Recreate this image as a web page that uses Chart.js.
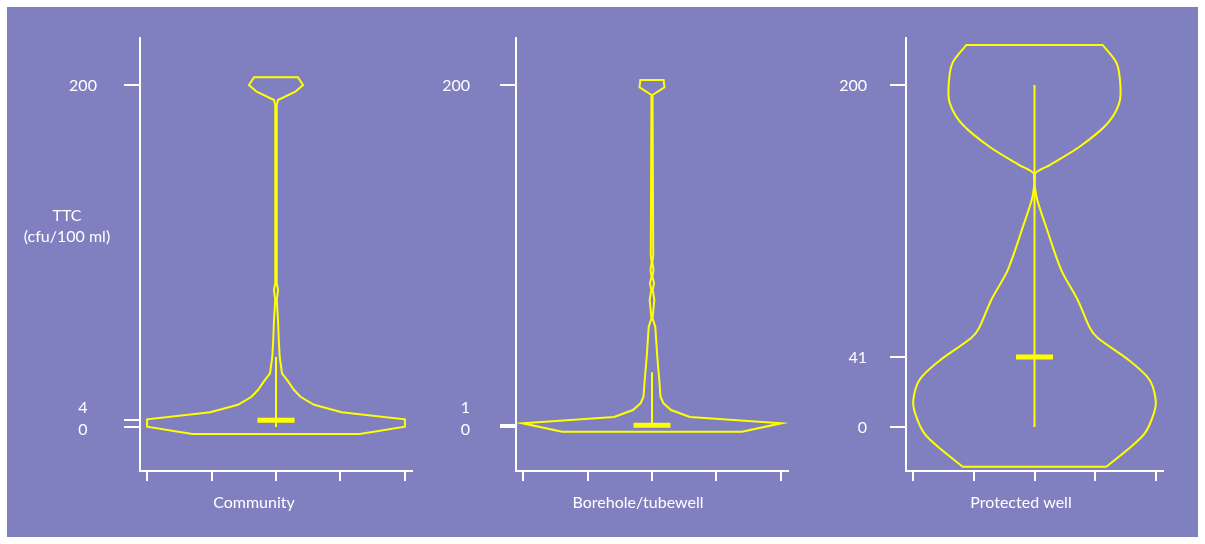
<!DOCTYPE html>
<html>
<head>
<meta charset="utf-8">
<script src="https://cdn.jsdelivr.net/npm/chart.js@4.4.1/dist/chart.umd.min.js"></script>
<style>
  html, body { margin: 0; padding: 0; background: #ffffff; }
  #frame { position: absolute; left: 7px; top: 7px; width: 1191px; height: 530px; background: #8080c0; }
  canvas { position: absolute; left: 0; top: 0; }
</style>
</head>
<body>
<div id="frame"></div>
<canvas id="c1" width="1205" height="544"></canvas>
<canvas id="c2" width="1205" height="544"></canvas>
<canvas id="c3" width="1205" height="544"></canvas>
<script>
// TTC (cfu/100 ml) by water source
const categories = ['Community', 'Borehole/tubewell', 'Protected well'];
const yTitle = ['TTC', '(cfu/100 ml)'];

// violin outlines: TTC level and half width (density, in x tick units)
const communityLevels = [-4.1, 0.2, 4.5, 8.6, 13.0, 17.7, 21.6, 26.5, 31.4, 41.1, 50.9, 62.6, 74.3, 80.1, 84.2, 188.3, 191.2, 196.1, 200.0, 204.5];
const communityWidths = [1.30, 2.00, 2.00, 1.02, 0.59, 0.38, 0.28, 0.19, 0.093, 0.057, 0.043, 0.031, 0.012, 0.031, 0.011, 0.011, 0.031, 0.30, 0.42, 0.34];

const boreholeLevels = [-2.75, 2.16, 5.85, 9.94, 13.86, 17.72, 27.49, 41.11, 58.65, 63.57, 74.27, 80.12, 84.04, 87.89, 91.81, 96.49, 100.58, 194.15, 198.65, 202.92];
const boreholeWidths = [1.395, 2.005, 0.589, 0.295, 0.178, 0.132, 0.113, 0.082, 0.051, 0.008, 0.036, 0.011, 0.031, 0.008, 0.023, 0.006, 0.019, 0.008, 0.194, 0.181];

const wellLevels = [-23.2, -13.5, -3.7, 8.0, 15.8, 27.5, 38.5, 52.0, 57.9, 74.3, 91.8, 117.1, 132.8, 140.5, 148.0, 153.2, 163.9, 177.2, 189.3, 200.0, 212.7, 223.4];
const wellWidths = [1.18, 1.52, 1.81, 1.96, 1.99, 1.89, 1.57, 1.04, 0.91, 0.71, 0.44, 0.19, 0.046, 0.008, 0.005, 0.25, 0.74, 1.19, 1.39, 1.41, 1.35, 1.12];

// median and whisker range per source
const medians = [4, 1, 41];
const whiskerLow = [0, 0, 0];
const whiskerHigh = [41, 32, 200];

// y tick values per panel
const yTicks = [[0, 4, 200], [0, 1, 200], [0, 41, 200]];
const xTicks = [-2, -1, 0, 1, 2];

const YELLOW = '#ffff00';
const WHITE = '#ffffff';
const FONT = '16px Lato';

const labelPlugin = {
    id: 'panelLabels',
    afterDraw(chart, args, opts) {
        const ctx = chart.ctx;
        const ys = chart.scales.y;
        ctx.save();
        ctx.fillStyle = WHITE;
        ctx.font = FONT;
        ctx.textBaseline = 'middle';

        // tick labels, pushed apart when two ticks are too close
        ctx.textAlign = opts.tickAlign;
        const vals = opts.ticks.slice().sort((a, b) => a - b);
        let prevY = null;
        vals.forEach((v, i) => {
            let py = ys.getPixelForValue(v) + 1;
            const next = vals[i + 1];
            if (next !== undefined && py - ys.getPixelForValue(next) < 20) {
                py += 2;
            }
            if (prevY !== null && prevY - py < 22) {
                py = prevY - 22;
            }
            ctx.fillText(String(v), opts.tickX, py);
            prevY = py;
        });

        // category label under the x axis
        ctx.textAlign = 'center';
        ctx.fillText(opts.title, opts.titleX, 503);

        // y axis title (first panel only)
        if (opts.showYTitle) {
            ctx.fillText(yTitle[0], 67, 216);
            ctx.fillText(yTitle[1], 67, 237);
        }
        ctx.restore();
    }
};

function makePanel(canvasId, idx, levels, widths, left, right, tickAlign, tickX, titleX, smooth) {
    const n = levels.length;
    const outline = [];
    // right side going up, then left side going down; flat ends doubled so smoothing keeps them flat
    outline.push({ x: widths[0], y: levels[0] });
    for (let i = 0; i < n; i++) {
        outline.push({ x: widths[i], y: levels[i] });
    }
    outline.push({ x: widths[n - 1], y: levels[n - 1] });
    outline.push({ x: -widths[n - 1], y: levels[n - 1] });
    for (let i = n - 1; i >= 0; i--) {
        outline.push({ x: -widths[i], y: levels[i] });
    }
    outline.push({ x: -widths[0], y: levels[0] });
    outline.push({ x: widths[0], y: levels[0] });
    outline.push({ x: widths[0], y: levels[0] });

    const top = 38, bottom = 471;

    new Chart(document.getElementById(canvasId), {
        type: 'scatter',
        data: {
            datasets: [
                {
                    data: outline,
                    showLine: true,
                    borderColor: YELLOW,
                    borderWidth: 2,
                    pointRadius: 0,
                    tension: smooth,
                    fill: false
                },
                {
                    data: [{ x: 0, y: whiskerLow[idx] }, { x: 0, y: whiskerHigh[idx] }],
                    showLine: true,
                    borderColor: YELLOW,
                    borderWidth: 2,
                    pointRadius: 0
                },
                {
                    data: [{ x: 0, y: medians[idx] }],
                    pointStyle: 'line',
                    pointRadius: 18.5,
                    borderColor: YELLOW,
                    borderWidth: 5
                }
            ]
        },
        options: {
            responsive: false,
            animation: false,
            events: [],
            layout: {
                padding: { left: left - 16, right: 1205 - right, top: top, bottom: 544 - bottom - 10 }
            },
            plugins: {
                legend: { display: false },
                tooltip: { enabled: false },
                panelLabels: {
                    ticks: yTicks[idx],
                    tickAlign: tickAlign,
                    tickX: tickX,
                    title: categories[idx],
                    titleX: titleX,
                    showYTitle: idx === 0
                }
            },
            scales: {
                x: {
                    type: 'linear',
                    min: -2.11,
                    max: 2.11,
                    afterBuildTicks: s => { s.ticks = xTicks.map(v => ({ value: v })); },
                    afterFit: s => { s.height = 10; },
                    ticks: { display: false },
                    grid: { display: true, drawOnChartArea: false, drawTicks: true, tickLength: 10, color: WHITE, lineWidth: 2 },
                    border: { display: true, color: WHITE, width: 2 }
                },
                y: {
                    type: 'linear',
                    min: -25.73,
                    max: 227.49,
                    afterBuildTicks: s => { s.ticks = yTicks[idx].map(v => ({ value: v })); },
                    afterFit: s => { s.width = 16; },
                    ticks: { display: false },
                    grid: { display: true, drawOnChartArea: false, drawTicks: true, tickLength: 16, color: WHITE, lineWidth: 2 },
                    border: { display: true, color: WHITE, width: 2 }
                }
            }
        },
        plugins: [labelPlugin]
    });
}

makePanel('c1', 0, communityLevels, communityWidths, 140, 412, 'center', 83, 254, 0);
makePanel('c2', 1, boreholeLevels, boreholeWidths, 516, 788, 'right', 470, 638, 0);
makePanel('c3', 2, wellLevels, wellWidths, 906, 1163, 'right', 867, 1021, 0.3);
</script>
</body>
</html>
